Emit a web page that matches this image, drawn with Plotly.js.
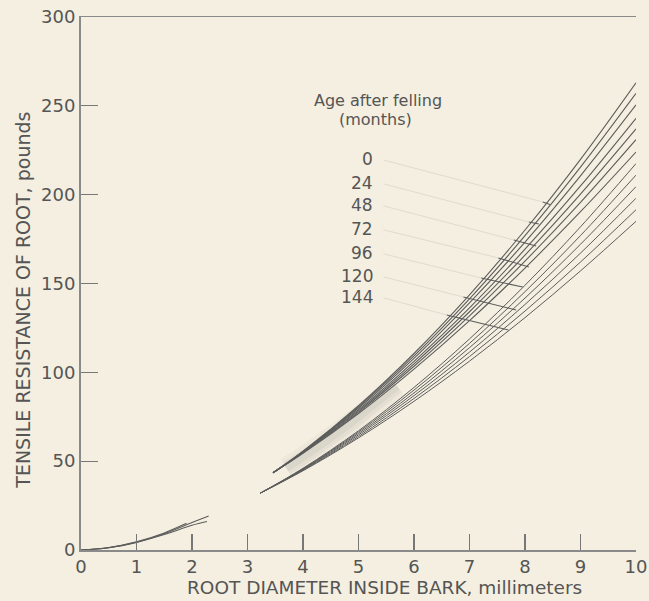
<!DOCTYPE html>
<html>
<head>
<meta charset="utf-8">
<script src="https://cdn.plot.ly/plotly-3.0.1.min.js"></script>
<style>
  html, body { margin: 0; padding: 0; background: #f4efe0; }
  #chart { width: 649px; height: 601px; }
</style>
</head>
<body>
<div id="chart"></div>
<script>
// ---- Data ----
// Upper bundle of curves (start near d = 3.46 mm)
const xUpper = [3.46, 4, 5, 6, 7, 8, 9, 10];
const upper1 = [43.5, 55.6, 81.2, 110.6, 143.6, 180.1, 219.9, 263.0];
const upper2 = [43.5, 55.5, 80.6, 109.3, 141.4, 176.9, 215.5, 257.0];
const upper3 = [43.5, 55.3, 79.9, 107.9, 139.1, 173.3, 210.6, 250.5];
const upper4 = [43.5, 55.0, 79.0, 106.2, 136.3, 169.3, 204.9, 243.0];
const upper5 = [43.5, 54.8, 78.3, 104.8, 134.1, 166.0, 200.3, 237.0];
const upper6 = [43.5, 54.7, 77.6, 103.4, 131.8, 162.6, 195.7, 231.0];
const upper7 = [43.5, 54.4, 76.8, 101.8, 129.1, 158.7, 190.4, 224.0];
// Lower bundle of curves (start near d = 3.23 mm)
const xLower = [3.23, 4, 5, 6, 7, 8, 9, 10];
const lower1 = [32.0, 46.0, 67.1, 91.5, 118.8, 149.0, 181.9, 217.5];
const lower2 = [32.0, 45.7, 66.4, 90.0, 116.3, 145.4, 177.0, 211.0];
const lower3 = [32.0, 45.5, 65.6, 88.4, 113.9, 141.8, 172.1, 204.5];
const lower4 = [32.0, 45.2, 64.8, 86.9, 111.4, 138.2, 167.1, 198.0];
const lower5 = [32.0, 44.9, 63.9, 85.3, 108.9, 134.5, 162.1, 191.5];
const lower6 = [32.0, 44.6, 63.1, 83.7, 106.3, 130.8, 157.1, 185.0];
// Short curves near the origin
const xSmallA = [0, 0.5, 1, 1.5, 1.9];
const ySmallA = [0, 1.4, 4.6, 9.6, 15.0];
const xSmallB = [0, 0.5, 1, 1.5, 2, 2.27];
const ySmallB = [0, 1.3, 4.3, 8.7, 13.9, 16.0];
const xSmallC = [0, 0.5, 1, 1.5, 2, 2.3];
const ySmallC = [0, 1.3, 4.4, 9.2, 15.5, 19.2];
// Grey smudge along the curves (scan artefact)
const xSmudge = [3.7, 4.1, 4.5, 4.9, 5.3, 5.7];
const ySmudge = [46, 54, 63, 72, 82, 92];

// Age labels (months) and their leader lines
const ages = ["0", "24", "48", "72", "96", "120", "144"];
const ageLabelX = 5.30;
const ageLabelY = [220.0, 206.6, 194.2, 180.7, 167.2, 154.2, 142.4];
const crossX0 = [8.32, 8.07, 7.80, 7.52, 7.21, 6.89, 6.59];
const crossY0 = [195.9, 184.6, 174.5, 164.4, 153.1, 142.4, 132.3];
const crossX1 = [8.45, 8.25, 8.20, 8.07, 7.96, 7.84, 7.70];
const crossY1 = [194.5, 183.5, 171.1, 159.3, 148.0, 135.1, 123.8];
const leaderStartX = 5.45;

const xTicks = [0, 1, 2, 3, 4, 5, 6, 7, 8, 9, 10];
const yTicks = [0, 50, 100, 150, 200, 250, 300];

// ---- Build traces ----
const lineColor = "#5c5c5c";
const textColor = "#555555";
const traces = [];

// soft smudge: several stacked translucent strokes
[[22, 0.05], [14, 0.07], [7, 0.08]].forEach(function (s) {
  traces.push({
    x: xSmudge, y: ySmudge, mode: "lines", type: "scatter",
    line: { color: "rgba(110,110,110," + s[1] + ")", width: s[0], shape: "spline" },
    hoverinfo: "skip", showlegend: false
  });
});

[upper1, upper2, upper3, upper4, upper5, upper6, upper7].forEach(function (ys) {
  traces.push({ x: xUpper, y: ys, mode: "lines", type: "scatter",
    line: { color: lineColor, width: 1.1, shape: "spline" }, showlegend: false });
});
[lower1, lower2, lower3, lower4, lower5, lower6].forEach(function (ys) {
  traces.push({ x: xLower, y: ys, mode: "lines", type: "scatter",
    line: { color: lineColor, width: 1.0, shape: "spline" }, showlegend: false });
});
[[xSmallA, ySmallA], [xSmallB, ySmallB], [xSmallC, ySmallC]].forEach(function (p) {
  traces.push({ x: p[0], y: p[1], mode: "lines", type: "scatter",
    line: { color: lineColor, width: 1.1, shape: "spline" }, showlegend: false });
});

for (let i = 0; i < ages.length; i++) {
  traces.push({ x: [leaderStartX, crossX0[i]], y: [ageLabelY[i] - 0.5, crossY0[i]],
    mode: "lines", type: "scatter",
    line: { color: "rgba(110,110,110,0.16)", width: 1 }, showlegend: false });
  traces.push({ x: [crossX0[i], crossX1[i]], y: [crossY0[i], crossY1[i]],
    mode: "lines", type: "scatter",
    line: { color: lineColor, width: 1.1 }, showlegend: false });
}

const annotations = [];
annotations.push({ x: 5.36, y: 253.0, xref: "x", yref: "y", text: "Age after felling",
  showarrow: false, xanchor: "center", yanchor: "middle",
  font: { family: "DejaVu Sans", size: 16, color: textColor } });
annotations.push({ x: 5.30, y: 242.3, xref: "x", yref: "y", text: "(months)",
  showarrow: false, xanchor: "center", yanchor: "middle",
  font: { family: "DejaVu Sans", size: 16, color: textColor } });
for (let i = 0; i < ages.length; i++) {
  annotations.push({ x: ageLabelX, y: ageLabelY[i], xref: "x", yref: "y", text: ages[i],
    showarrow: false, xanchor: "right", yanchor: "middle",
    font: { family: "DejaVu Sans", size: 17, color: textColor } });
}
// Axis titles (placed as in the reference, slightly off-centre)
annotations.push({ x: 0.546, y: -0.071, xref: "paper", yref: "paper",
  text: "ROOT DIAMETER INSIDE BARK, millimeters", showarrow: false,
  xanchor: "center", yanchor: "middle",
  font: { family: "DejaVu Sans", size: 18.5, color: textColor } });
annotations.push({ x: -0.106, y: 0.468, xref: "paper", yref: "paper",
  text: "TENSILE RESISTANCE OF ROOT, pounds", showarrow: false, textangle: -90,
  xanchor: "center", yanchor: "middle",
  font: { family: "DejaVu Sans", size: 19, color: textColor } });

const layout = {
  width: 649, height: 601,
  paper_bgcolor: "#f4efe0", plot_bgcolor: "#f4efe0",
  margin: { l: 81, r: 13, t: 17, b: 51, pad: 0 },
  showlegend: false,
  font: { family: "DejaVu Sans", color: textColor },
  xaxis: {
    range: [0, 10], tickvals: xTicks, ticktext: xTicks.map(String),
    ticks: "inside", ticklen: 16, tickwidth: 1.3, tickcolor: "#777",
    showline: true, linecolor: "#8a8a8a", linewidth: 1.5, mirror: true,
    showgrid: false, zeroline: false, ticklabeloverflow: "allow",
    tickfont: { family: "DejaVu Sans", size: 18, color: textColor }
  },
  yaxis: {
    range: [0, 300], tickvals: yTicks, ticktext: yTicks.map(String),
    ticks: "inside", ticklen: 17, tickwidth: 1.3, tickcolor: "#777",
    showline: true, linecolor: "#8a8a8a", linewidth: 2, mirror: false,
    showgrid: false, zeroline: false, ticklabeloverflow: "allow",
    tickfont: { family: "DejaVu Sans", size: 18, color: textColor }
  },
  annotations: annotations
};

Plotly.newPlot("chart", traces, layout, { displayModeBar: false, staticPlot: true });
</script>
</body>
</html>
